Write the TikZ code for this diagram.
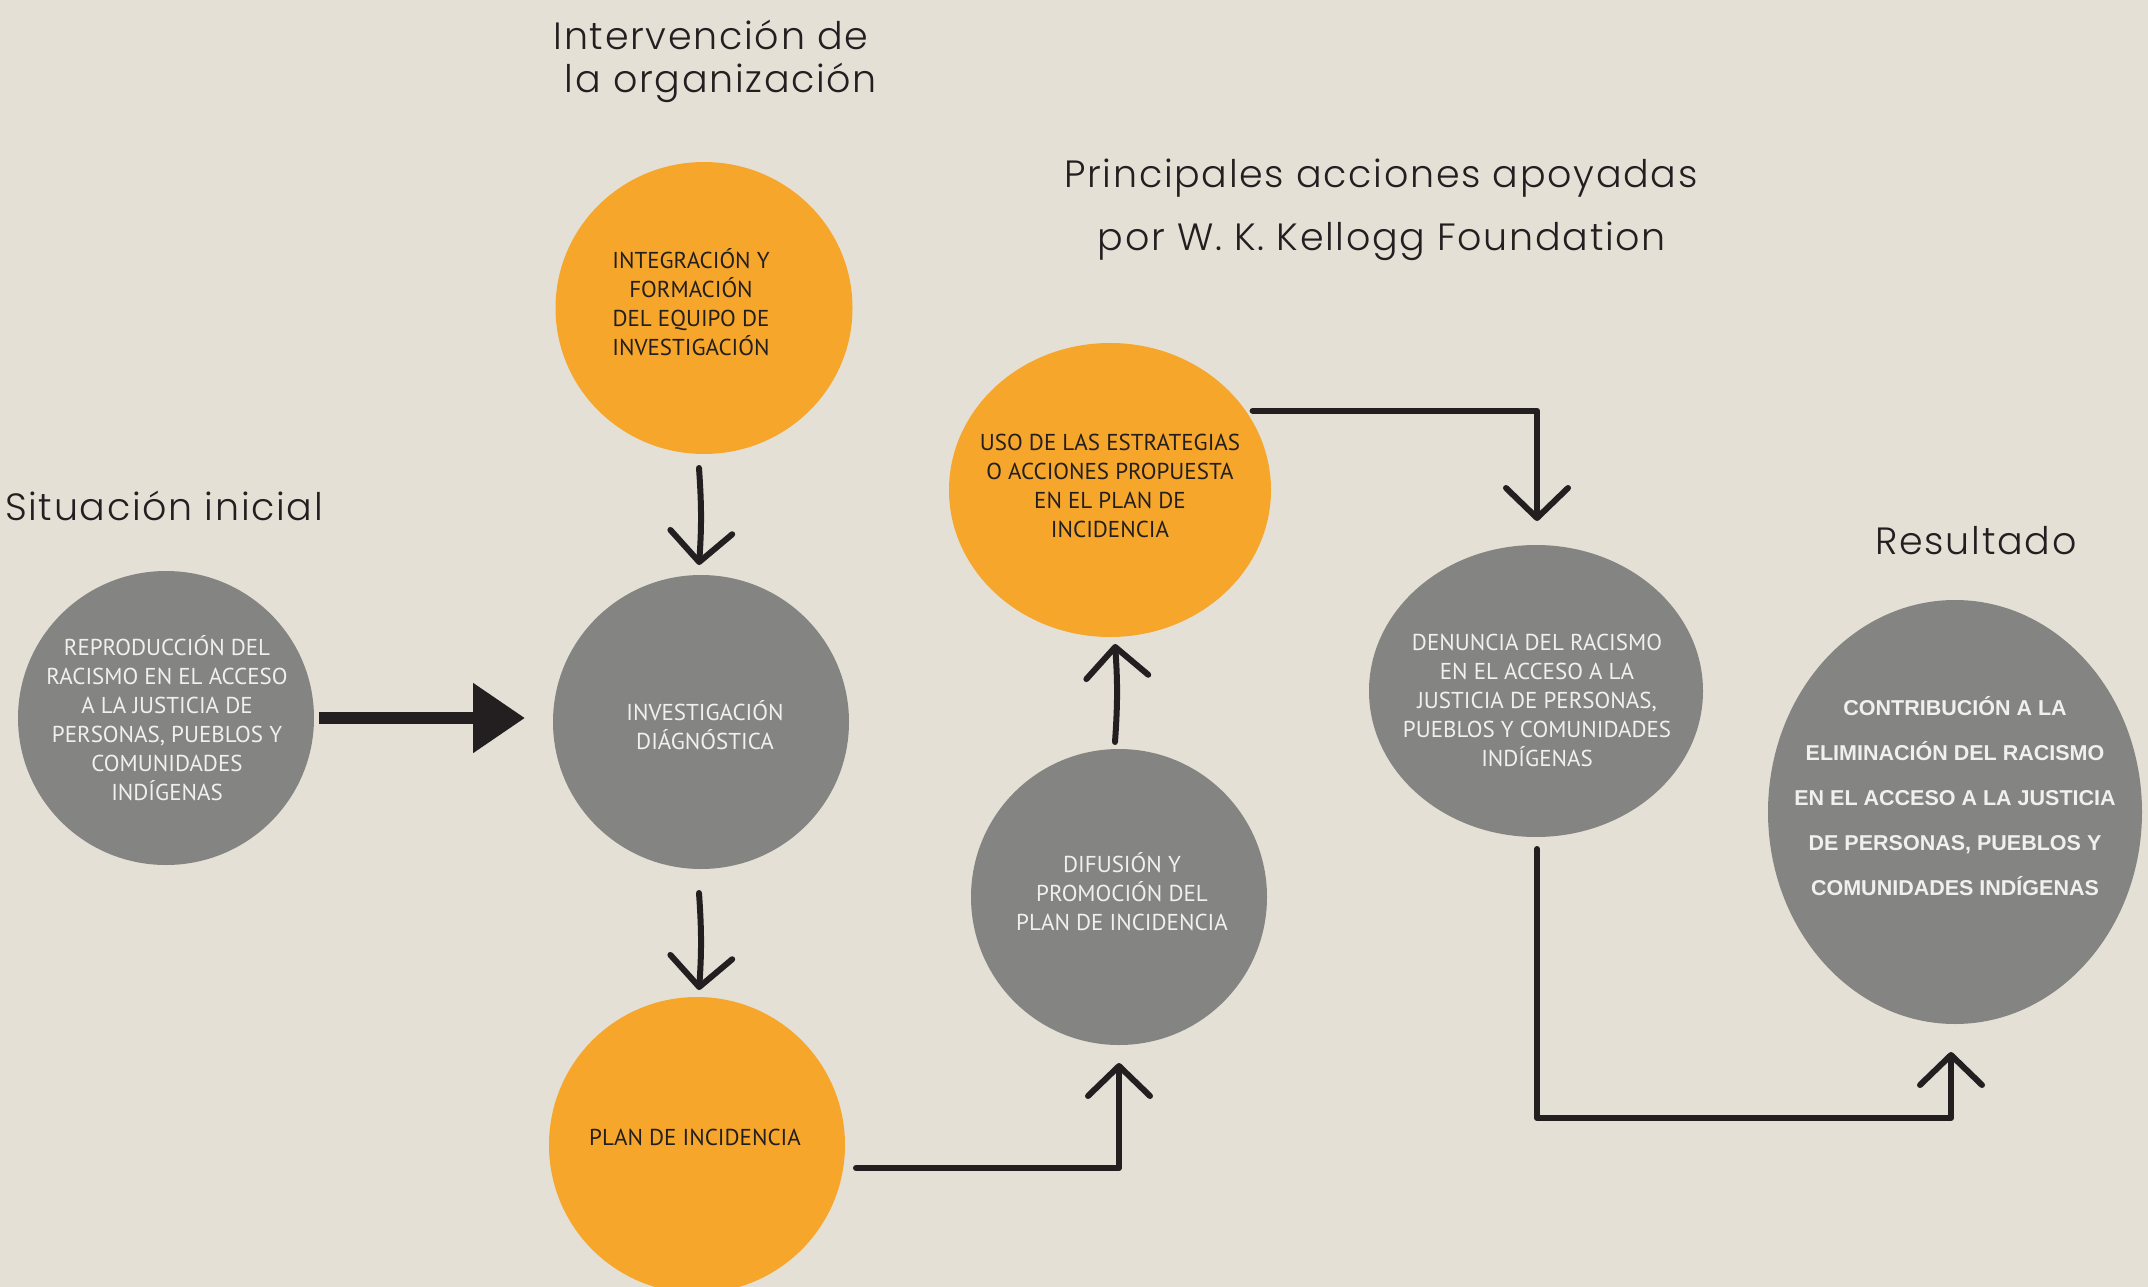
\documentclass[tikz,border=0pt]{standalone}
\usepackage{fontspec}
\setsansfont{PT Sans}
\newfontfamily\hand[LetterSpace=4.5]{Poppins Light}
\newfontfamily\boldsans{Liberation Sans}
\usetikzlibrary{shapes.geometric,arrows.meta,calc}
\definecolor{bgcol}{RGB}{229,224,214}
\definecolor{graycirc}{RGB}{132,132,130}
\definecolor{orangecirc}{RGB}{246,166,42}
\definecolor{ink}{RGB}{35,31,32}
\definecolor{lighttext}{RGB}{240,240,238}
\begin{document}
\begin{tikzpicture}[x=1pt,y=-1pt,
  blob/.style={ellipse, inner sep=0pt, outer sep=0pt, draw=none},
  grayblob/.style={blob, fill=graycirc},
  orangeblob/.style={blob, fill=orangecirc},
  wtext/.style={text=lighttext, font=\sffamily\fontsize{23}{29}\selectfont, align=center, inner sep=0pt},
  dtext/.style={text=ink, font=\sffamily\fontsize{23}{29}\selectfont, align=center, inner sep=0pt},
  btext/.style={text=lighttext, font=\boldsans\bfseries\fontsize{21.5}{44.8}\selectfont, align=center, inner sep=0pt},
  titleline/.style={text=ink, font=\hand\fontsize{38}{42}\selectfont, anchor=base, inner sep=0pt},
  conn/.style={draw=ink, line width=6pt, line cap=round, line join=round,
    -{Straight Barb[length=30pt,width=62pt,line cap=round,line join=round]}}
]
\fill[bgcol] (0,0) rectangle (2148,1287);
\useasboundingbox (0,0) rectangle (2148,1287);
\clip (0,0) rectangle (2148,1287);

% titles
\node[titleline] (t1a) at (711,50) {Intervención de};
\node[titleline] (t1b) at (721,93) {la organización};
\node[titleline] (t2a) at (1381,188) {Principales acciones apoyadas};
\node[titleline] (t2b) at (1382,250) {por W. K. Kellogg Foundation};
\node[titleline] (t3) at (164,520) {Situación inicial};
\node[titleline] (t4) at (1976,554) {Resultado};

% circles
\node[grayblob, minimum width=296pt, minimum height=294pt] (rep) at (166,718) {};
\node[orangeblob, minimum width=297pt, minimum height=292pt] (integ) at (704,308) {};
\node[grayblob, minimum width=296pt, minimum height=294pt] (invest) at (701,722) {};
\node[orangeblob, minimum width=296pt, minimum height=296pt] (plan) at (697,1145) {};
\node[orangeblob, minimum width=322pt, minimum height=294pt] (uso) at (1110,490) {};
\node[grayblob, minimum width=296pt, minimum height=296pt] (difus) at (1119,897) {};
\node[grayblob, minimum width=334pt, minimum height=292pt] (denun) at (1536,691) {};
\node[grayblob, minimum width=374pt, minimum height=424pt] (contrib) at (1955,812) {};

% texts
\node[wtext] (reptx) at ($(rep)+(1,0)$) {REPRODUCCIÓN DEL\\RACISMO EN EL ACCESO\\A LA JUSTICIA DE\\PERSONAS, PUEBLOS Y\\COMUNIDADES\\INDÍGENAS};
\node[dtext] (integtx) at ($(integ)+(-13,-6)$) {INTEGRACIÓN Y\\FORMACIÓN\\DEL EQUIPO DE\\INVESTIGACIÓN};
\node[wtext] (investtx) at ($(invest)+(4,3)$) {INVESTIGACIÓN\\DIÁGNÓSTICA};
\node[dtext] (plantx) at ($(plan)+(-2,-8)$) {PLAN DE INCIDENCIA};
\node[dtext] (usotx) at ($(uso)+(0,-4)$) {USO DE LAS ESTRATEGIAS\\O ACCIONES PROPUESTA\\EN EL PLAN DE\\INCIDENCIA};
\node[wtext] (difustx) at ($(difus)+(3,-5)$) {DIFUSIÓN Y\\PROMOCIÓN DEL\\PLAN DE INCIDENCIA};
\node[wtext] (denuntx) at ($(denun)+(1,9)$) {DENUNCIA DEL RACISMO\\EN EL ACCESO A LA\\JUSTICIA DE PERSONAS,\\PUEBLOS Y COMUNIDADES\\INDÍGENAS};
\node[btext] (contribtx) at ($(contrib)+(0,-16)$) {CONTRIBUCIÓN A LA\\ELIMINACIÓN DEL RACISMO\\EN EL ACCESO A LA JUSTICIA\\DE PERSONAS, PUEBLOS Y\\COMUNIDADES INDÍGENAS};

% connectors
\draw[ink, line width=12pt, -{Triangle[length=52pt,width=67pt]}]
  ($(rep.east)+(5,0)$) -- ($(invest.west)+(-28,-4)$);
\draw[conn] ($(integ.south)+(-5,14)$) to[bend left=4] ($(invest.north)+(-2,-10)$);
\draw[conn] ($(invest.south)+(-2,24)$) to[bend left=4] ($(plan.north)+(2,-7)$);
\draw[conn] ($(plan.east)+(11,23)$) -| ($(difus.south)+(0,18)$);
\draw[conn] ($(difus.north)+(-4,-7)$) to[bend right=4] ($(uso.south)+(5,7)$);
\draw[conn] ($(uso.29)+(5,-3)$) -| ($(denun.north)+(1,-24)$);
\coordinate (bendpt) at (1951,1118);
\draw[conn] ($(denun.south)+(1,12)$) |- (bendpt) -- ($(contrib.south)+(-4,28)$);
\end{tikzpicture}
\end{document}
